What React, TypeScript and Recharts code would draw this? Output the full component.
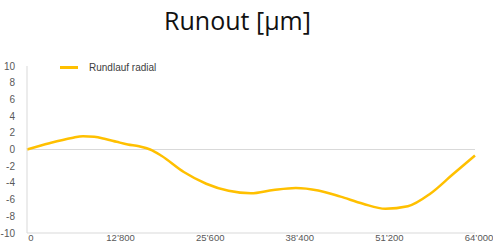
import { LineChart, Line, XAxis, YAxis, ReferenceLine } from 'recharts';

const positions = [
  0, 3200, 6400, 8000, 9600, 11200, 12800, 14400, 16000, 17600, 19200, 22400, 25600, 28800, 32000,
  35200, 38400, 41600, 44800, 48000, 51200, 54400, 57600, 60800, 64000,
];
const runout = [
  0, 0.75, 1.38, 1.6, 1.52, 1.25, 0.92, 0.6, 0.38, 0.0, -0.75, -2.7, -4.1, -4.95, -5.25,
  -4.85, -4.6, -4.9, -5.65, -6.5, -7.1, -6.8, -5.3, -3.0, -0.72,
];
const xTicks = [0, 12800, 25600, 38400, 51200, 64000];
const yTicks = [-10, -8, -6, -4, -2, 0, 2, 4, 6, 8, 10];

const data = positions.map((x, i) => ({ x, v: runout[i] }));

const fmt = (v: number) => (v === 0 ? '0' : `${Math.floor(v / 1000)}’${String(v % 1000).padStart(3, '0')}`);

const font = 'Liberation Sans, Arial, sans-serif';

export default function App() {
  return (
    <div style={{ position: 'fixed', left: 0, top: 0, width: 493, height: 243, background: '#fff' }}>
      <div style={{ position: 'absolute', left: 0, width: 475, top: 3, textAlign: 'center', fontFamily: 'Open Sans, sans-serif', fontSize: 25, color: '#111' }}>
        Runout [µm]
      </div>
      {/* legend sits inside the plot, top left */}
      <div style={{ position: 'absolute', left: 60, top: 62, display: 'flex', alignItems: 'center', fontFamily: font, fontSize: 10, color: '#404040', zIndex: 1 }}>
        <span style={{ display: 'inline-block', width: 18, height: 3, background: '#FFC000', marginRight: 11 }} />
        Rundlauf radial
      </div>
      <LineChart width={493} height={243} data={data} margin={{ top: 66, right: 18, bottom: 0, left: 0 }}>
        <XAxis
          dataKey="x"
          type="number"
          domain={[0, 64000]}
          ticks={xTicks}
          tickFormatter={fmt}
          height={10}
          tickLine={false}
          tickSize={0}
          tickMargin={1}
          axisLine={{ stroke: '#d9d9d9' }}
          tick={{ fontSize: 9.5, fill: '#595959', fontFamily: font, dx: 4 }}
          interval={0}
        />
        <YAxis
          domain={[-10, 10]}
          ticks={yTicks}
          width={27}
          tickLine={false}
          tickMargin={6}
          axisLine={{ stroke: '#d9d9d9' }}
          tick={{ fontSize: 10, fill: '#595959', fontFamily: font }}
          interval={0}
        />
        <ReferenceLine y={0} stroke="#d9d9d9" />
        <Line type="monotone" dataKey="v" stroke="#FFC000" strokeWidth={2.5} dot={false} isAnimationActive={false} />
      </LineChart>
    </div>
  );
}
